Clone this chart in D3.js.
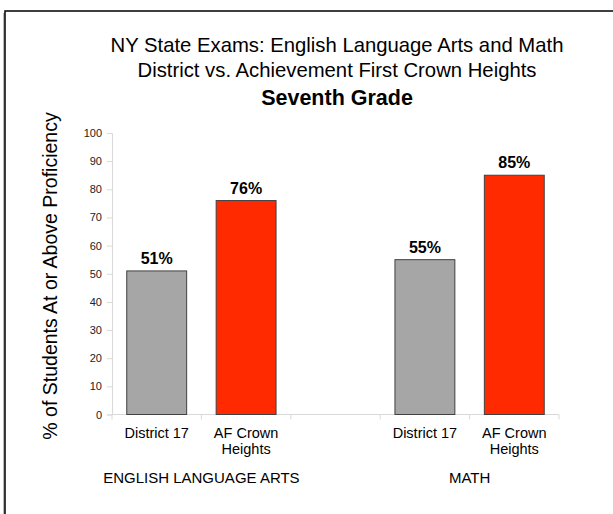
<!DOCTYPE html>
<html><head><meta charset="utf-8">
<script src="https://cdn.jsdelivr.net/npm/d3@7"></script>
<style>body{margin:0;background:#fff}svg{display:block;font-family:"Liberation Sans",Arial,sans-serif}</style>
</head><body><svg id="c" width="613" height="514"></svg>
<script>
const slots = ["ela_d17","ela_af","gap","math_d17","math_af"];
const slotLabels = [["District 17"],["AF Crown","Heights"],[],["District 17"],["AF Crown","Heights"]];
const values = [51, 76, null, 55, 85];
const barColors = ["#a6a6a6","#ff2a00",null,"#a6a6a6","#ff2a00"];
const groupLabels = ["ENGLISH LANGUAGE ARTS","MATH"];
const yTicks = [0,10,20,30,40,50,60,70,80,90,100];
const titleLines = ["NY State Exams: English Language Arts and Math","District vs. Achievement First Crown Heights"];
const subtitle = "Seventh Grade";
const yLabel = "% of Students At or Above Proficiency";

const svg = d3.select("#c");
// frame
svg.append("rect").attr("x",3).attr("y",13).attr("width",640).attr("height",540).attr("fill","#bbb");
svg.append("rect").attr("x",5).attr("y",11).attr("width",640).attr("height",540).attr("fill","#fff").attr("stroke","#000").attr("stroke-width",1.5);

const x = d3.scaleBand().domain(slots).range([112,559]).paddingInner(0.33).paddingOuter(0.165);
const xs = d3.scaleBand().domain(slots).range([112,559]);
const y = d3.scaleLinear().domain([0,100]).range([414.5,133]);

// axes
const ya = svg.append("g").attr("transform","translate(112,0)").call(d3.axisLeft(y).tickValues(yTicks).tickSize(5).tickPadding(5));
ya.select(".domain").attr("stroke","#d9d9d9");
ya.selectAll(".tick line").attr("stroke","#d9d9d9");
ya.selectAll(".tick text").attr("font-size",11).attr("fill","#222").attr("font-family","Liberation Sans, Arial, sans-serif");

const xa = svg.append("g").attr("transform","translate(0,414.5)");
xa.append("line").attr("x1",112).attr("x2",559).attr("stroke","#d9d9d9");
const bounds = slots.map(s=>xs(s)).concat([559]);
xa.selectAll("line.t").data(bounds).join("line").attr("class","t")
  .attr("x1",d=>d).attr("x2",d=>d).attr("y1",0).attr("y2",5).attr("stroke","#d9d9d9");

// bars
const data = slots.map((s,i)=>({s,v:values[i],c:barColors[i]})).filter(d=>d.v!=null);
svg.selectAll("rect.bar").data(data).join("rect").attr("class","bar")
  .attr("x",d=>x(d.s)).attr("width",x.bandwidth())
  .attr("y",d=>y(d.v)).attr("height",d=>y(0)-y(d.v))
  .attr("fill",d=>d.c).attr("stroke","#404040").attr("stroke-width",1);
svg.selectAll("text.val").data(data).join("text").attr("class","val")
  .attr("x",d=>x(d.s)+x.bandwidth()/2).attr("y",d=>y(d.v)-7)
  .attr("text-anchor","middle").attr("font-size",16).attr("font-weight","bold").attr("fill","#000")
  .text(d=>d.v+"%");

// category labels
slots.forEach((s,i)=>{
  const t = svg.append("text").attr("x",xs(s)+xs.bandwidth()/2).attr("y",438)
    .attr("text-anchor","middle").attr("font-size",14.5).attr("fill","#000");
  slotLabels[i].forEach((l,j)=>t.append("tspan").attr("x",xs(s)+xs.bandwidth()/2).attr("dy",j?16:0).text(l));
});
// group labels
const gx = [(xs("ela_d17")+xs("ela_af")+xs.bandwidth())/2, (xs("math_d17")+xs("math_af")+xs.bandwidth())/2];
groupLabels.forEach((g,i)=>svg.append("text").attr("x",gx[i]).attr("y",483).attr("text-anchor","middle")
  .attr("font-size",15).attr("fill","#000").text(g));

// titles
titleLines.forEach((l,i)=>svg.append("text").attr("x",337).attr("y",52+i*25).attr("text-anchor","middle")
  .attr("font-size",20.3).attr("fill","#000").text(l));
svg.append("text").attr("x",337).attr("y",105).attr("text-anchor","middle").attr("font-size",21.5)
  .attr("font-weight","bold").attr("fill","#000").text(subtitle);

// y label
svg.append("text").attr("transform","translate(57,276) rotate(-90)").attr("text-anchor","middle")
  .attr("font-size",19.5).attr("fill","#000").text(yLabel);
</script></body></html>
